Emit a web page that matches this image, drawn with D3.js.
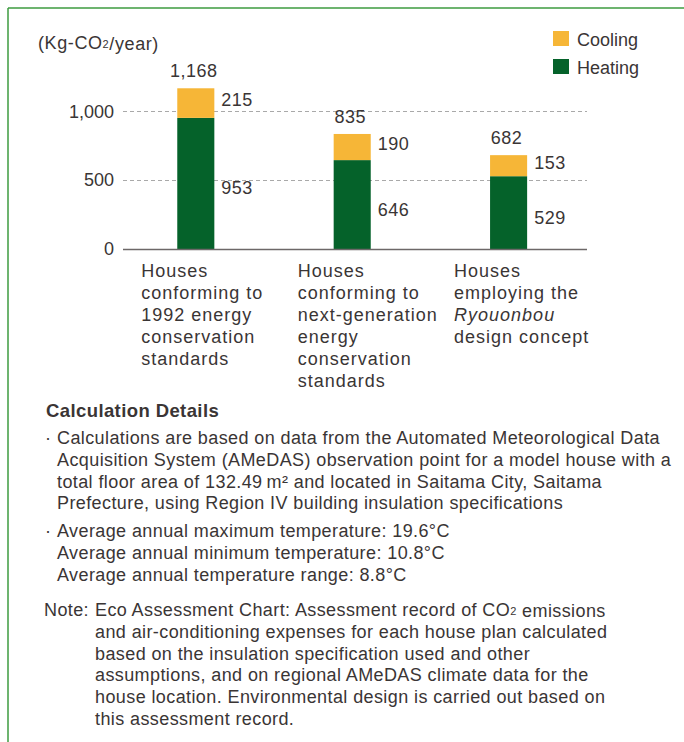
<!DOCTYPE html>
<html>
<head>
<meta charset="utf-8">
<script src="https://cdn.jsdelivr.net/npm/d3@7/dist/d3.min.js"></script>
<style>
  html, body { margin: 0; padding: 0; background: #fff; }
  svg { display: block; }
  text { font-family: "Liberation Sans", Arial, Helvetica, sans-serif; fill: #3a3535; }
</style>
</head>
<body>
<svg id="chart" width="684" height="742"></svg>
<script>
// Annual CO2 emissions per house type (Kg-CO2/year)
const categories = [
  ["Houses", "conforming to", "1992 energy", "conservation", "standards"],
  ["Houses", "conforming to", "next-generation", "energy", "conservation", "standards"],
  ["Houses", "employing the", "<i>Ryouonbou</i>", "design concept"]
];
const heating = [953, 646, 529];
const cooling = [215, 190, 153];
const totals = [1168, 835, 682];
const yTicks = [0, 500, 1000];
const seriesNames = ["Cooling", "Heating"];
const unitLabel = "(Kg-CO₂/year)";

const detailsTitle = "Calculation Details";
const detailsBullet1 = [
  "Calculations are based on data from the Automated Meteorological Data",
  "Acquisition System (AMeDAS) observation point for a model house with a",
  "total floor area of 132.49\u2009m² and located in Saitama City, Saitama",
  "Prefecture, using Region IV building insulation specifications"
];
const detailsBullet2 = [
  "Average annual maximum temperature: 19.6°C",
  "Average annual minimum temperature: 10.8°C",
  "Average annual temperature range: 8.8°C"
];
const noteLabel = "Note:";
const noteLines = [
  "Eco Assessment Chart: Assessment record of CO₂ emissions",
  "and air-conditioning expenses for each house plan calculated",
  "based on the insulation specification used and other",
  "assumptions, and on regional AMeDAS climate data for the",
  "house location. Environmental design is carried out based on",
  "this assessment record."
];

const colors = { Cooling: "#f6b637", Heating: "#05622a" };

const svg = d3.select("#chart");

// Writes a string into a text node, drawing "₂" as a small digit
function richText(sel, str, smallSize) {
  const parts = str.split("₂");
  parts.forEach((p, k) => {
    sel.append("tspan").text(p);
    if (k < parts.length - 1) {
      sel.append("tspan").style("font-size", smallSize + "px").attr("dy", 1).text("2");
      sel.append("tspan").attr("dy", -1).text("");
    }
  });
}

// Frame lines (top and left)
svg.append("line").attr("x1", 8).attr("x2", 684).attr("y1", 8).attr("y2", 8)
  .attr("stroke", "#3d9b3f").attr("stroke-width", 1.5);
svg.append("line").attr("x1", 8).attr("x2", 8).attr("y1", 8).attr("y2", 742)
  .attr("stroke", "#3d9b3f").attr("stroke-width", 1.5);

// Scales
const plotLeft = 123, plotRight = 587;
const y = d3.scaleLinear().domain([0, 1000]).range([249, 111.4]);
const x = d3.scaleBand().domain(d3.range(categories.length))
  .range([plotLeft, 581.4]).paddingInner(0.763).paddingOuter(0.347);

// Gridlines and y tick labels
const yAxis = d3.axisLeft(y).tickValues(yTicks).tickFormat(d3.format(",")).tickSize(0).tickPadding(8);
const gAxis = svg.append("g").attr("transform", `translate(${plotLeft - 1},0)`).call(yAxis);
gAxis.select(".domain").remove();
gAxis.selectAll("text")
  .style("font-family", '"Liberation Sans", Arial, sans-serif')
  .style("font-size", "18px").attr("fill", "#3a3535");

svg.append("g").selectAll("line").data(yTicks.filter(d => d > 0)).join("line")
  .attr("x1", plotLeft).attr("x2", plotRight)
  .attr("y1", d => Math.round(y(d)) + 0.5).attr("y2", d => Math.round(y(d)) + 0.5)
  .attr("stroke", "#a9a9a9").attr("stroke-width", 1).attr("stroke-dasharray", "4,3");

// Stacked bars
const stackData = categories.map((c, i) => ({ i, Heating: heating[i], Cooling: cooling[i] }));
const stacked = d3.stack().keys(["Heating", "Cooling"])(stackData);

svg.append("g").selectAll("g").data(stacked).join("g")
  .attr("fill", d => colors[d.key])
  .selectAll("rect").data(d => d).join("rect")
  .attr("x", d => x(d.data.i))
  .attr("width", x.bandwidth())
  .attr("y", d => y(d[1]))
  .attr("height", d => y(d[0]) - y(d[1]));

// Baseline
svg.append("line").attr("x1", plotLeft).attr("x2", plotRight)
  .attr("y1", y(0) + 0.5).attr("y2", y(0) + 0.5)
  .attr("stroke", "#6d6868").attr("stroke-width", 1.5);

// Value labels
const labels = svg.append("g").style("font-size", "18px").style("letter-spacing", "0.5px");
stackData.forEach((d, i) => {
  const cx = x(i) + x.bandwidth() / 2;
  const right = x(i) + x.bandwidth() + 7;
  labels.append("text").attr("x", cx - 2).attr("y", y(totals[i]) - 17)
    .attr("text-anchor", "middle").attr("dominant-baseline", "central")
    .text(d3.format(",")(totals[i]));
  labels.append("text").attr("x", right).attr("y", (y(heating[i]) + y(totals[i])) / 2 - 3)
    .attr("dominant-baseline", "central").text(d3.format(",")(cooling[i]));
  labels.append("text").attr("x", right).attr("y", (y(0) + y(heating[i])) / 2 + 5)
    .attr("dominant-baseline", "central").text(d3.format(",")(heating[i]));
});

// Category labels
const catG = svg.append("g").style("font-size", "18px").style("letter-spacing", "1px");
categories.forEach((lines, i) => {
  const lx = x(i) - 36;
  const t = catG.append("text").attr("x", lx).attr("y", 271).attr("dominant-baseline", "central");
  lines.forEach((ln, k) => {
    const ts = t.append("tspan").attr("x", lx).attr("y", 271 + k * 22);
    if (ln.startsWith("<i>")) ts.style("font-style", "italic").text(ln.replace(/<\/?i>/g, ""));
    else ts.text(ln);
  });
});

// Unit label
const unit = svg.append("text").attr("x", 38).attr("y", 43).attr("dominant-baseline", "central")
  .style("font-size", "18px").style("letter-spacing", "0.6px");
richText(unit, unitLabel, 11);

// Legend
const legend = svg.append("g");
seriesNames.forEach((name, k) => {
  const ly = 31 + k * 28;
  legend.append("rect").attr("x", 553).attr("y", ly).attr("width", 16).attr("height", 15)
    .attr("fill", colors[name]);
  legend.append("text").attr("x", 577).attr("y", ly + 8.5).attr("dominant-baseline", "central")
    .style("font-size", "18px").text(name);
});

// Calculation details
const det = svg.append("g").style("font-size", "18px").style("letter-spacing", "0.4px");
det.append("text").attr("x", 46).attr("y", 410).attr("dominant-baseline", "central")
  .style("font-weight", "bold").style("font-size", "18.5px").text(detailsTitle);

function block(lines, top, withBullet) {
  if (withBullet) {
    det.append("text").attr("x", 45).attr("y", top).attr("dominant-baseline", "central").text("·");
  }
  lines.forEach((ln, k) => {
    det.append("text").attr("x", 57).attr("y", top + k * 21.8)
      .attr("dominant-baseline", "central").text(ln);
  });
}
block(detailsBullet1, 438, true);
block(detailsBullet2, 531, true);

det.append("text").attr("x", 44).attr("y", 610).attr("dominant-baseline", "central").text(noteLabel);
noteLines.forEach((ln, k) => {
  const t = det.append("text").attr("x", 95).attr("y", 610 + k * 21.8)
    .attr("dominant-baseline", "central");
  richText(t, ln, 11);
});
</script>
</body>
</html>
